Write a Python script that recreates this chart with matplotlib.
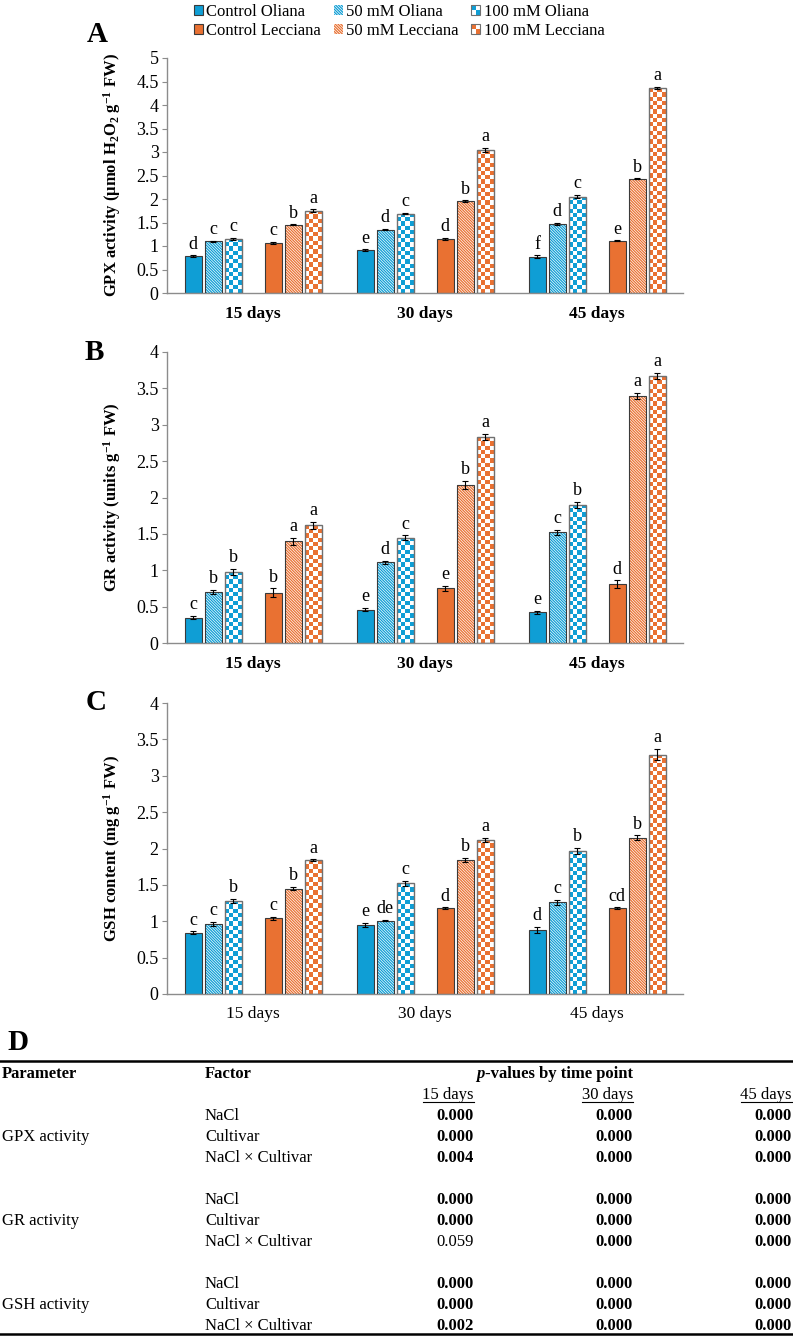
import matplotlib
matplotlib.use('Agg')
import matplotlib.pyplot as plt
import numpy as np
from matplotlib.colors import ListedColormap
from matplotlib.legend_handler import HandlerBase
from matplotlib.patches import Rectangle
from matplotlib.ticker import FuncFormatter

plt.rcParams['font.family'] = ['Liberation Serif', 'DejaVu Serif']
plt.rcParams['mathtext.fontset'] = 'custom'
plt.rcParams['mathtext.rm'] = 'Liberation Serif'
plt.rcParams['mathtext.bf'] = 'Liberation Serif:bold'
plt.rcParams['mathtext.it'] = 'Liberation Serif:italic'
plt.rcParams['hatch.linewidth'] = 0.9

# ---- data ----
days = ['15 days', '30 days', '45 days']
series = ['Control Oliana', '50 mM Oliana', '100 mM Oliana',
          'Control Lecciana', '50 mM Lecciana', '100 mM Lecciana']

# one row per time point, one value per series
gpx_mean = [[0.78, 1.10, 1.15, 1.06, 1.45, 1.75],
            [0.91, 1.35, 1.69, 1.15, 1.95, 3.04],
            [0.77, 1.47, 2.05, 1.11, 2.43, 4.36]]
gpx_err = [[0.02, 0.01, 0.02, 0.02, 0.01, 0.03],
           [0.02, 0.02, 0.01, 0.02, 0.02, 0.04],
           [0.03, 0.02, 0.03, 0.01, 0.01, 0.03]]
gpx_letters = [['d', 'c', 'c', 'c', 'b', 'a'],
               ['e', 'd', 'c', 'd', 'b', 'a'],
               ['f', 'd', 'c', 'e', 'b', 'a']]

gr_mean = [[0.35, 0.70, 0.98, 0.69, 1.40, 1.62],
           [0.46, 1.11, 1.45, 0.75, 2.17, 2.83],
           [0.42, 1.52, 1.90, 0.81, 3.40, 3.67]]
gr_err = [[0.02, 0.03, 0.04, 0.06, 0.05, 0.05],
          [0.02, 0.02, 0.03, 0.04, 0.06, 0.04],
          [0.02, 0.04, 0.04, 0.05, 0.04, 0.04]]
gr_letters = [['c', 'b', 'b', 'b', 'a', 'a'],
              ['e', 'd', 'c', 'e', 'b', 'a'],
              ['e', 'c', 'b', 'd', 'a', 'a']]

gsh_mean = [[0.84, 0.96, 1.28, 1.04, 1.45, 1.84],
            [0.95, 1.01, 1.52, 1.18, 1.84, 2.12],
            [0.88, 1.26, 1.97, 1.18, 2.15, 3.29]]
gsh_err = [[0.02, 0.03, 0.03, 0.02, 0.02, 0.01],
           [0.03, 0.01, 0.04, 0.01, 0.03, 0.03],
           [0.04, 0.03, 0.04, 0.01, 0.03, 0.08]]
gsh_letters = [['c', 'c', 'b', 'c', 'b', 'a'],
               ['e', 'de', 'c', 'd', 'b', 'a'],
               ['d', 'c', 'b', 'cd', 'b', 'a']]

# table D
tab_params = ['GPX activity', 'GR activity', 'GSH activity']
tab_factors = ['NaCl', 'Cultivar', 'NaCl × Cultivar']
tab_pvals = [[['0.000', '0.000', '0.000'], ['0.000', '0.000', '0.000'], ['0.004', '0.000', '0.000']],
             [['0.000', '0.000', '0.000'], ['0.000', '0.000', '0.000'], ['0.059', '0.000', '0.000']],
             [['0.000', '0.000', '0.000'], ['0.000', '0.000', '0.000'], ['0.002', '0.000', '0.000']]]

BLUE = '#0F9ED5'
ORANGE = '#E97132'
EDGE = '#3a3a3a'
AXIS = '#8c8c8c'
colors = [BLUE] * 3 + [ORANGE] * 3
kinds = ['solid', 'hatch', 'checker'] * 2

W, H = 793, 1337
fig = plt.figure(figsize=(W / 100, H / 100), dpi=100)

slot = 20 / 172
bar_w = 17 / 172
offsets = np.array([-3, -2, -1, 1, 2, 3]) * slot
HATCH = '\\' * 12


def checker_img(ny, nx):
    return (np.add.outer(np.arange(ny), np.arange(nx)) % 2).astype(float)


def draw_panel(rect, means, errs, letters, ymax, ylabel, bold_days):
    ax = fig.add_axes(rect)
    means = np.array(means)
    errs = np.array(errs)
    px_per_unit = rect[3] * H / ymax
    cat = np.arange(len(days))
    handles = []
    for s in range(len(series)):
        x = cat + offsets[s]
        v = means[:, s]
        c = colors[s]
        if kinds[s] == 'solid':
            h = ax.bar(x, v, bar_w, color=c, edgecolor=EDGE, linewidth=0.8, zorder=2)
        elif kinds[s] == 'hatch':
            h = ax.bar(x, v, bar_w, facecolor='white', edgecolor=c, hatch=HATCH,
                       linewidth=0, zorder=2)
            ax.bar(x, v, bar_w, fill=False, edgecolor=EDGE, linewidth=0.8, zorder=3)
        else:
            h = ax.bar(x, v, bar_w, facecolor='white', edgecolor='none', zorder=2)
            cmap = ListedColormap(['white', c])
            for xi, vi, patch in zip(x, v, h.patches):
                ny = max(1, int(round(vi * px_per_unit / 4.25)))
                im = ax.imshow(checker_img(ny, 4), cmap=cmap, vmin=0, vmax=1,
                               extent=(xi - bar_w / 2, xi + bar_w / 2, 0, vi),
                               origin='lower', aspect='auto',
                               interpolation='nearest', zorder=2.5)
                im.set_clip_path(patch)
            ax.bar(x, v, bar_w, fill=False, edgecolor='#707070', linewidth=1.0, zorder=3)
        handles.append(h)
        ax.errorbar(x, v, yerr=errs[:, s], fmt='none', ecolor='black',
                    elinewidth=0.8, capsize=2.3, capthick=0.8, zorder=4)
        for xi, vi, ei, lab in zip(x, v, errs[:, s], np.array(letters)[:, s]):
            ax.annotate(lab, (xi, vi + ei), xytext=(0, 2), textcoords='offset points',
                        ha='center', va='bottom', fontsize=13)

    ax.set_xlim(-0.5, len(days) - 0.5)
    ax.set_ylim(0, ymax)
    ax.set_yticks(np.arange(0, ymax + 0.01, 0.5))
    ax.yaxis.set_major_formatter(FuncFormatter(lambda v, _: f'{v:g}'))
    ax.set_xticks(cat)
    ax.set_xticklabels(days, fontweight='bold' if bold_days else 'normal', fontsize=12.5)
    ax.tick_params(axis='x', length=0, pad=9)
    ax.tick_params(axis='y', length=3.5, width=0.8, color=AXIS, pad=2.5, labelsize=13)
    for side in ['top', 'right']:
        ax.spines[side].set_visible(False)
    for side in ['left', 'bottom']:
        ax.spines[side].set_color(AXIS)
        ax.spines[side].set_linewidth(1.0)
    ax.set_ylabel(ylabel, fontsize=12, fontweight='bold')
    ax.yaxis.set_label_coords(-0.085, 0.5)
    return ax, handles


left = 167 / W
width = (683 - 167) / W


def rect_from(top_px, bottom_px):
    return [left, 1 - bottom_px / H, width, (bottom_px - top_px) / H]


axA, handles = draw_panel(rect_from(58, 293), gpx_mean, gpx_err, gpx_letters, 5,
                          r'GPX activity (µmol H$_\mathbf{2}$O$_\mathbf{2}$ g$^\mathbf{-1}$ FW)', True)
axB, _ = draw_panel(rect_from(352, 643), gr_mean, gr_err, gr_letters, 4,
                    r'GR activity (units g$^\mathbf{-1}$ FW)', True)
axC, _ = draw_panel(rect_from(703, 994), gsh_mean, gsh_err, gsh_letters, 4,
                    r'GSH content (mg g$^\mathbf{-1}$ FW)', False)


# legend with a small checker square for the 100 mM series
class CheckerHandler(HandlerBase):
    def __init__(self, color):
        super().__init__()
        self.color = color

    def create_artists(self, legend, orig_handle, xdescent, ydescent, width, height,
                       fontsize, trans):
        arts = []
        for i in range(2):
            for j in range(2):
                fc = self.color if (i + j) % 2 == 1 else 'white'
                arts.append(Rectangle((-xdescent + i * width / 2, -ydescent + j * height / 2),
                                      width / 2, height / 2, facecolor=fc,
                                      edgecolor='none', transform=trans))
        arts.append(Rectangle((-xdescent, -ydescent), width, height, fill=False,
                              edgecolor='#707070', linewidth=0.8, transform=trans))
        return arts


proxy_o = Rectangle((0, 0), 1, 1)
proxy_l = Rectangle((0, 0), 1, 1)
leg_handles = [handles[0], handles[3], handles[1], handles[4], proxy_o, proxy_l]
leg_labels = [series[0], series[3], series[1], series[4], series[2], series[5]]
fig.legend(leg_handles, leg_labels, ncol=3, loc='upper left',
           bbox_to_anchor=(194 / W, 1 - 4 / H), frameon=False, fontsize=12,
           handlelength=0.55, handleheight=0.55, handletextpad=0.2,
           columnspacing=0.75, labelspacing=0.2, borderpad=0, borderaxespad=0,
           handler_map={proxy_o: CheckerHandler(BLUE), proxy_l: CheckerHandler(ORANGE)})

# panel letters
for lab, (px, py) in zip('ABCD', [(97, 35), (94, 352), (96, 703), (18, 1042)]):
    fig.text(px / W, 1 - py / H, lab, fontsize=21, fontweight='bold', ha='center', va='center')

# ---- table D ----
tab = fig.add_axes([0, 0, 1, (H - 1050) / H])
tab.set_xlim(0, W)
tab.set_ylim(H, 1050)
tab.axis('off')

tab.plot([0, W], [1061, 1061], color='black', lw=1.8, clip_on=False)
tab.plot([0, W], [1334, 1334], color='black', lw=1.8, clip_on=False)

col_right = [474, 633, 792]
tab.text(2, 1074, 'Parameter', fontsize=12, fontweight='bold', va='center')
tab.text(205, 1074, 'Factor', fontsize=12, fontweight='bold', va='center')
pv_rest = tab.text(633, 1074, '-values by time point', fontsize=12, fontweight='bold',
                   va='center', ha='right')
sub_texts = [tab.text(xr, 1095, d, fontsize=12, va='center', ha='right')
             for xr, d in zip(col_right, days)]

for b, (param, block) in enumerate(zip(tab_params, tab_pvals)):
    y0 = 1116 + b * 84
    tab.text(2, y0 + 21, param, fontsize=12, va='center')
    for r, (fac, vals) in enumerate(zip(tab_factors, block)):
        y = y0 + r * 21
        tab.text(205, y, fac, fontsize=12, va='center')
        for xr, val in zip(col_right, vals):
            tab.text(xr, y, val, fontsize=12, va='center', ha='right',
                     fontweight='bold' if float(val) < 0.05 else 'normal')

fig.canvas.draw()
inv = tab.transData.inverted()
bb = pv_rest.get_window_extent()
x_left = inv.transform((bb.x0, bb.y0))[0]
tab.text(x_left, 1074, 'p', fontsize=12, fontweight='bold', fontstyle='italic',
         va='center', ha='right')
for t in sub_texts:
    bb = t.get_window_extent()
    (x0, y0), (x1, y1) = inv.transform([(bb.x0, bb.y0), (bb.x1, bb.y1)])
    tab.plot([x0, x1], [y0 - 1, y0 - 1], color='black', lw=0.8)

fig.savefig('out.png', dpi=100)
